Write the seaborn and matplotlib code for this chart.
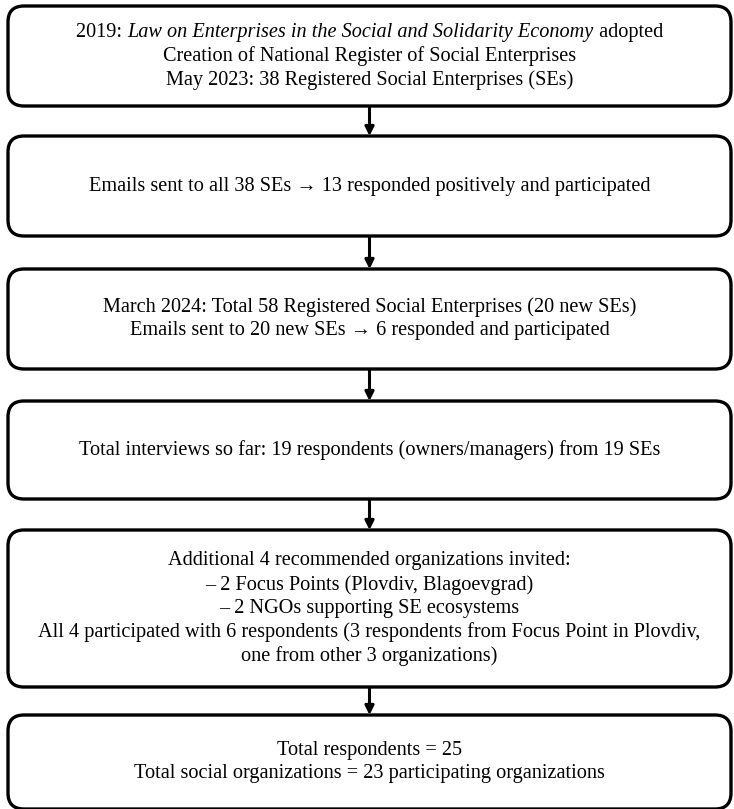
import matplotlib
matplotlib.use("Agg")
import matplotlib.pyplot as plt
import seaborn as sns
from matplotlib.patches import FancyBboxPatch

sns.set_theme(style="white")
plt.rcParams['font.family'] = ['Liberation Serif', 'DejaVu Serif']

# box contents (one list of lines per box)
first_line = ["2019: ", "Law on Enterprises in the Social and Solidarity Economy", " adopted"]
box_lines = [
    [None,
     "Creation of National Register of Social Enterprises",
     "May 2023: 38 Registered Social Enterprises (SEs)"],
    ["Emails sent to all 38 SEs \u2192 13 responded positively and participated"],
    ["March 2024: Total 58 Registered Social Enterprises (20 new SEs)",
     "Emails sent to 20 new SEs \u2192 6 responded and participated"],
    ["Total interviews so far: 19 respondents (owners/managers) from 19 SEs"],
    ["Additional 4 recommended organizations invited:",
     "\u2013 2 Focus Points (Plovdiv, Blagoevgrad)",
     "\u2013 2 NGOs supporting SE ecosystems",
     "All 4 participated with 6 respondents (3 respondents from Focus Point in Plovdiv,",
     "one from other 3 organizations)"],
    ["Total respondents = 25",
     "Total social organizations = 23 participating organizations"],
]

# layout in pixels (top, bottom) of each box
box_top = [6, 136, 269, 401, 530, 715]
box_bottom = [106, 236, 369, 499, 687, 809]
box_left, box_right = 8, 731
line_gap = 23.8
fs = 14.6

fig = plt.figure(figsize=(7.34, 8.09), dpi=100)
ax = fig.add_axes([0, 0, 1, 1])
ax.set_xlim(0, 734)
ax.set_ylim(809, 0)
ax.axis("off")

cx = (box_left + box_right) / 2
for i, lines in enumerate(box_lines):
    t, b = box_top[i], box_bottom[i]
    box = FancyBboxPatch((box_left, t), box_right - box_left, b - t,
                         boxstyle="round,pad=0,rounding_size=16",
                         fc="white", ec="black", lw=2.4, zorder=2)
    ax.add_patch(box)
    mid = (t + b) / 2
    n = len(lines)
    for j, line in enumerate(lines):
        y = mid + (j - (n - 1) / 2) * line_gap
        if line is None:
            continue
        ax.text(cx, y, line, ha="center", va="center", fontsize=fs,
                color="black", zorder=3)
    # arrow to next box
    if i < len(box_lines) - 1:
        ax.annotate("", xy=(cx, box_top[i + 1]), xytext=(cx, b),
                    arrowprops=dict(arrowstyle="-|>", color="black", lw=2.2,
                                    mutation_scale=13, shrinkA=0, shrinkB=0),
                    zorder=1)

# first line with italic title, built from pieces
renderer = fig.canvas.get_renderer()
styles = ["normal", "italic", "normal"]
pieces = []
for txt, st in zip(first_line, styles):
    pieces.append(ax.text(0, 0, txt, fontsize=fs, style=st, color="black",
                          va="center", ha="left", zorder=3))
widths = []
inv = ax.transData.inverted()
for p in pieces:
    bb = p.get_window_extent(renderer)
    x0 = inv.transform((bb.x0, bb.y0))[0]
    x1 = inv.transform((bb.x1, bb.y0))[0]
    widths.append(x1 - x0)
y0 = (box_top[0] + box_bottom[0]) / 2 - line_gap
x = cx - sum(widths) / 2
for p, w in zip(pieces, widths):
    p.set_position((x, y0))
    x += w

fig.savefig("out.png", dpi=100, facecolor="white")
